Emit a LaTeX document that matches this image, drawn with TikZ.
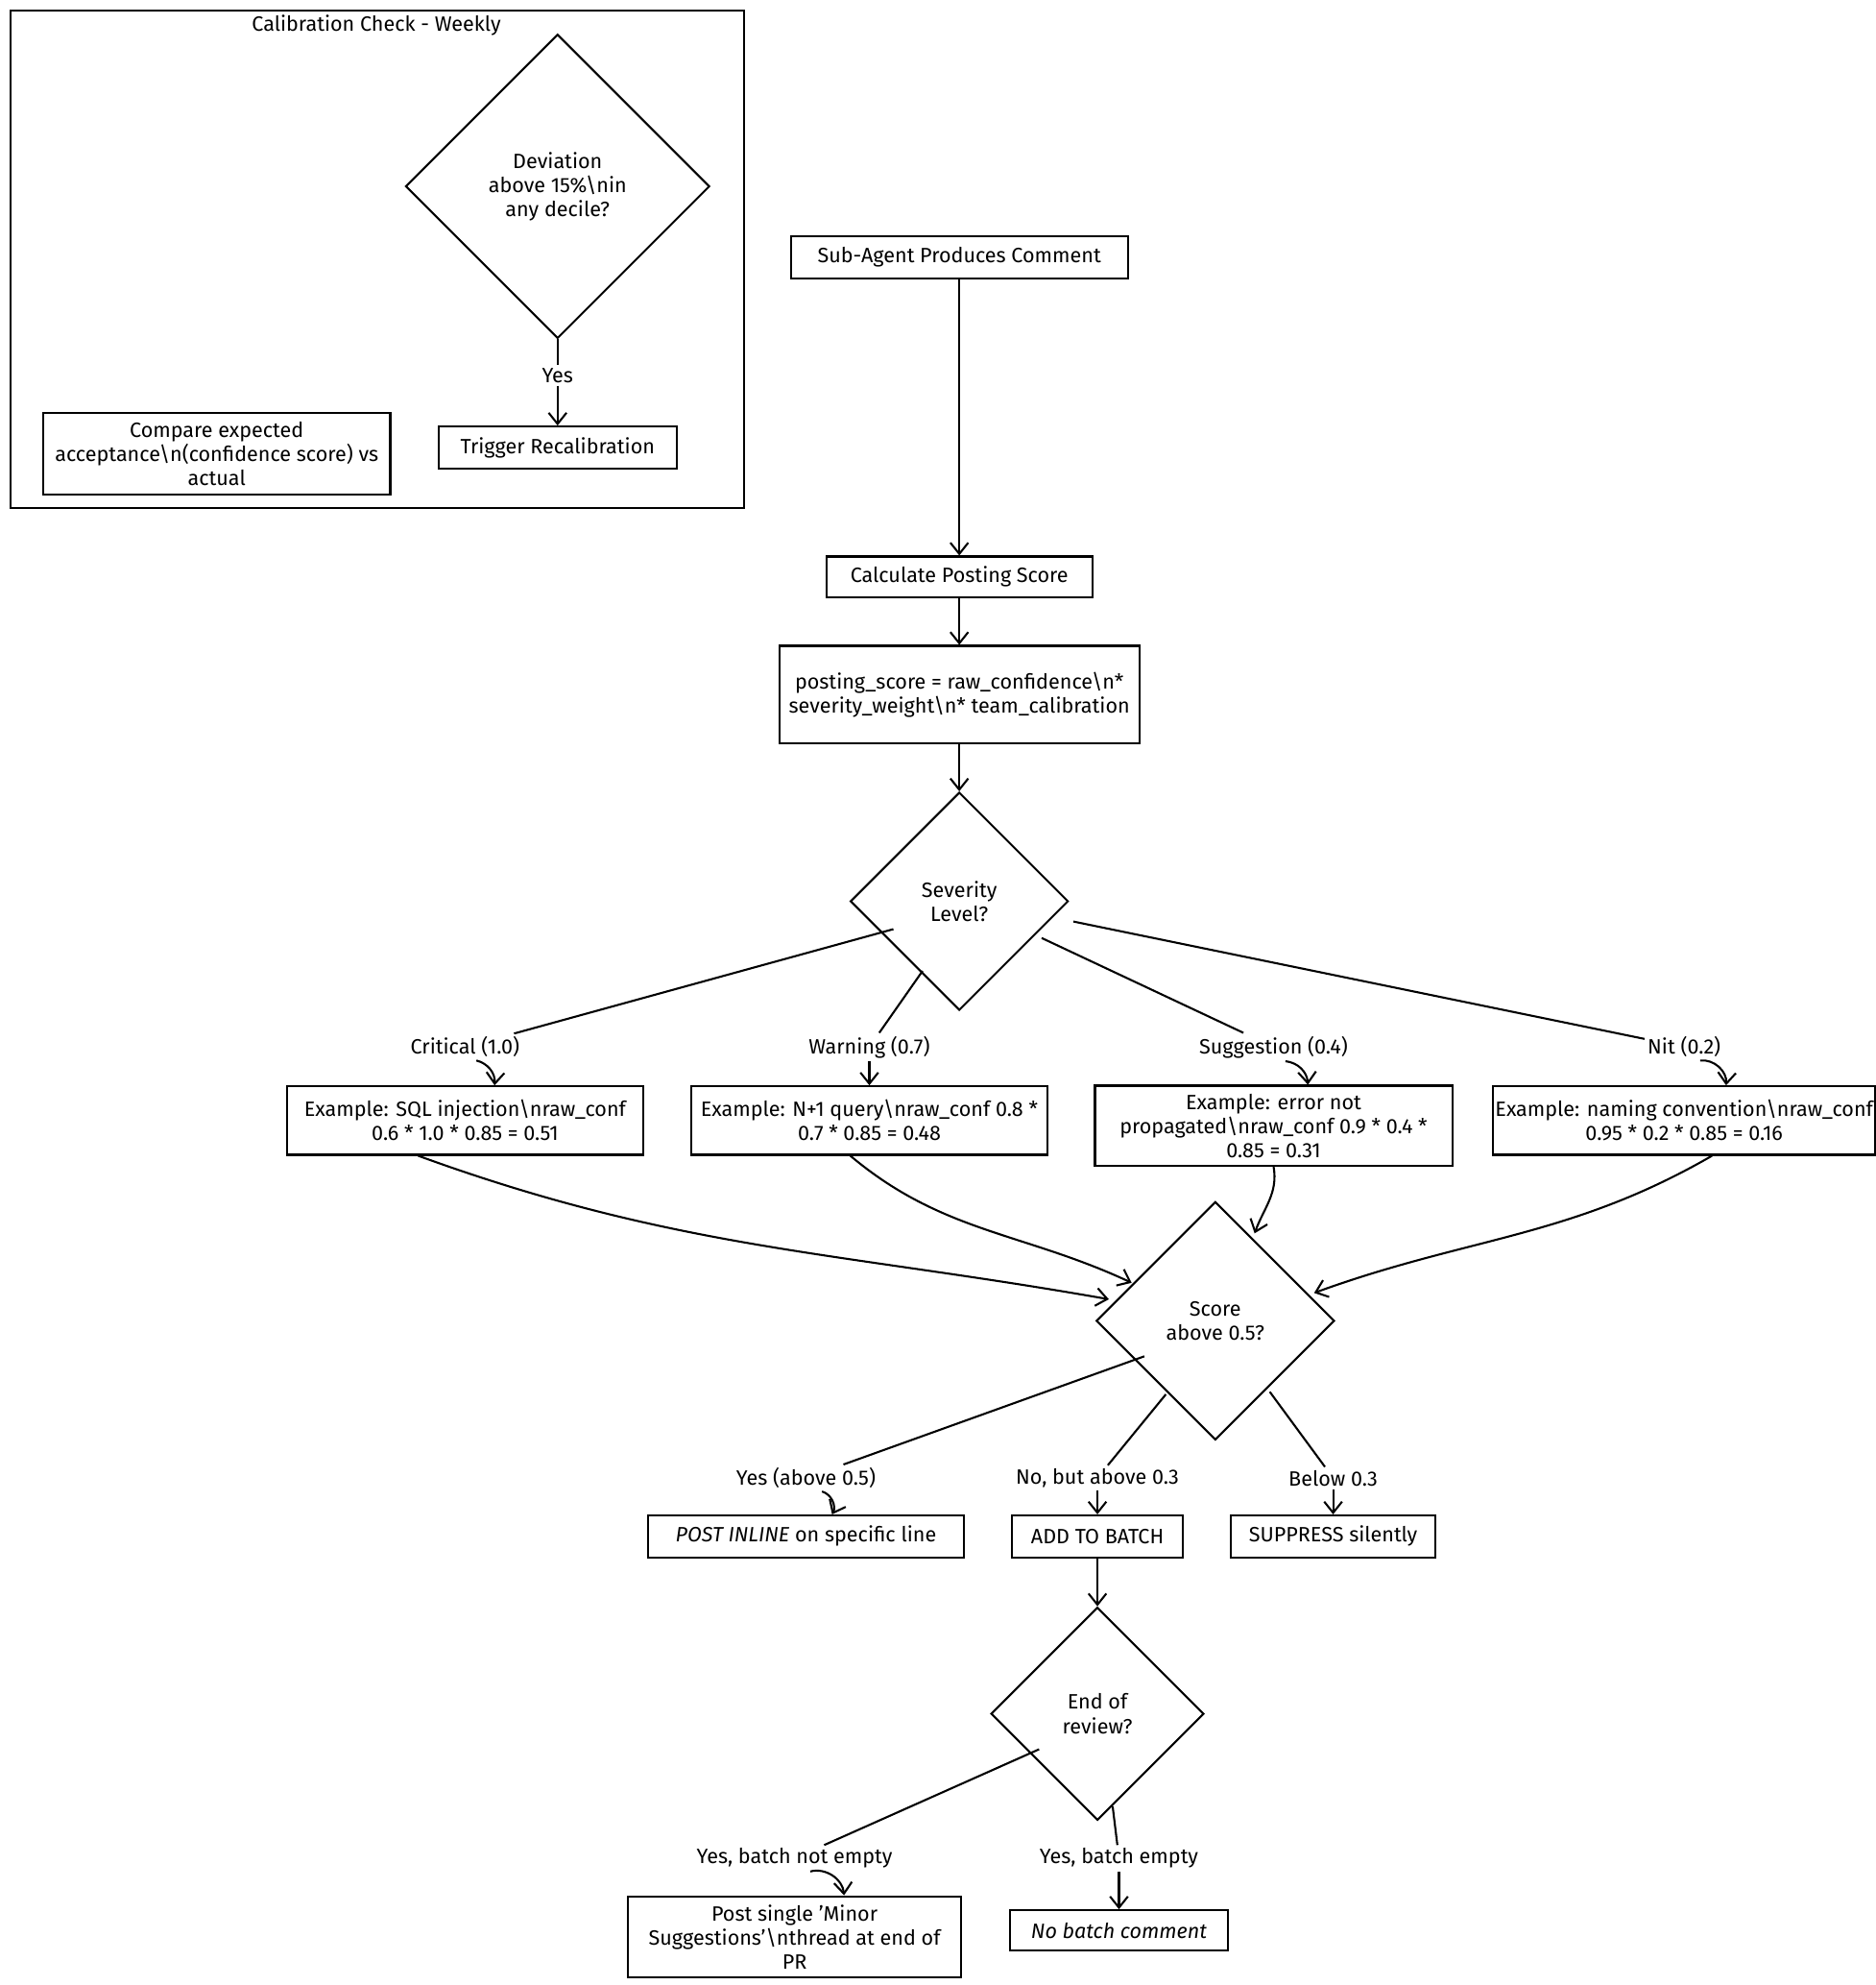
\documentclass[tikz,border=0pt]{standalone}
\usepackage{fontspec}
\setmainfont{Fira Sans}
\usetikzlibrary{shapes.geometric,arrows.meta}
\tikzset{
  box/.style={draw,rectangle,inner sep=3pt,align=center,line width=0.9pt},
  dia/.style={draw,diamond,aspect=1,inner sep=0pt,minimum size=#1,align=center,line width=0.9pt},
  lbl/.style={inner sep=1pt},
  every picture/.style={line width=0.9pt},
  arr/.style={-{Straight Barb[length=5pt,width=8pt]}},
}
\begin{document}
\begin{tikzpicture}[x=0.02cm,y=-0.02cm,font=\fontsize{9.3}{10.8}\selectfont]
  \useasboundingbox (0,0) rectangle (1480,1566);
  % calibration frame
  \draw (8,8) rectangle (587,401);
  \node[lbl] (title) at (297,20) {Calibration Check - Weekly};
  \node[dia=4.8cm] (dev) at (440,147) {Deviation\\above 15\%\textbackslash nin\\any decile?};
  \node[box,minimum width=3.76cm,minimum height=0.66cm] (recal) at (440,353) {Trigger Recalibration};
  \node[box,minimum width=5.48cm,minimum height=1.28cm,inner sep=1pt] (compare) at (171,358) {Compare expected\\acceptance\textbackslash n(confidence score) vs\\actual};
  \node[lbl] (yes0) at (440,296) {Yes};
  \draw (dev) -- (yes0);
  \draw[arr] (yes0) -- (recal);

  % main chain
  \node[box,minimum width=5.32cm,minimum height=0.66cm] (sub) at (757,203) {Sub-Agent Produces Comment};
  \node[box,minimum width=4.2cm,minimum height=0.64cm] (calc) at (757,455) {Calculate Posting Score};
  \node[box,minimum width=5.68cm,minimum height=1.54cm,inner sep=1pt] (formula) at (757,548) {posting\_score = raw\_confidence\textbackslash n*\\severity\_weight\textbackslash n* team\_calibration};
  \node[dia=3.44cm] (sev) at (757,711) {Severity\\Level?};
  \draw[arr] (sub) -- (calc);
  \draw[arr] (calc) -- (formula);
  \draw[arr] (formula) -- (sev);

  % severity branches
  \node[lbl] (crit) at (367,826) {Critical (1.0)};
  \node[lbl] (warn) at (686,826) {Warning (0.7)};
  \node[lbl] (sugg) at (1005,826) {Suggestion (0.4)};
  \node[lbl] (nit) at (1329,826) {Nit (0.2)};
  \node[box,minimum width=5.62cm,minimum height=1.08cm,inner sep=1pt] (ex1) at (367,884) {Example: SQL injection\textbackslash nraw\_conf\\0.6 * 1.0 * 0.85 = 0.51};
  \node[box,minimum width=5.62cm,minimum height=1.08cm,inner sep=1pt] (ex2) at (686,884) {Example: N+1 query\textbackslash nraw\_conf 0.8 *\\0.7 * 0.85 = 0.48};
  \node[box,minimum width=5.64cm,minimum height=1.26cm,inner sep=1pt] (ex3) at (1005,888) {Example: error not\\propagated\textbackslash nraw\_conf 0.9 * 0.4 *\\0.85 = 0.31};
  \node[box,minimum width=5.8cm,minimum height=1.08cm,inner sep=1pt] (ex4) at (1329,884) {Example: naming convention\textbackslash nraw\_conf\\0.95 * 0.2 * 0.85 = 0.16};
  \draw (705,733) -- (crit);
  \draw (728,766) -- (warn);
  \draw (822,740) -- (sugg);
  \draw (847,727) -- (nit);
  \draw[arr] (crit) to[bend left=40] (ex1);
  \draw[arr] (warn) -- (ex2);
  \draw[arr] (sugg) to[bend left=40] (ex3);
  \draw[arr] (nit) to[bend left=50] (ex4);

  % score decision
  \node[dia=3.76cm] (score) at (959,1042) {Score\\above 0.5?};
  \draw[arr] ([xshift=-0.74cm]ex1.south) to[out=-20,in=170] (875,1025);
  \draw[arr] ([xshift=-0.3cm]ex2.south) to[out=-40,in=155] (893,1012);
  \draw[arr] (ex3.south) to[out=-80,in=70] (990,973);
  \draw[arr] ([xshift=0.44cm]ex4.south) to[out=-150,in=20] (1037,1020);

  \node[lbl] (yes1) at (636,1166) {Yes (above 0.5)};
  \node[lbl] (nobut) at (866,1166) {No, but above 0.3};
  \node[lbl] (below) at (1052,1166) {Below 0.3};
  \node[box,minimum width=4.98cm,minimum height=0.66cm] (inline) at (636,1212) {\textit{POST INLINE} on specific line};
  \node[box,minimum width=2.7cm,minimum height=0.66cm] (batch) at (866,1212) {ADD TO BATCH};
  \node[box,minimum width=3.22cm,minimum height=0.66cm] (supp) at (1052,1212) {SUPPRESS silently};
  \draw (903,1070) -- (yes1);
  \draw (920,1100) -- (nobut);
  \draw (1002,1098) -- (below);
  \draw[arr] (yes1) to[bend left=50] (inline);
  \draw[arr] (nobut) -- (batch);
  \draw[arr] (below) -- (supp);

  % end of review
  \node[dia=3.36cm] (endrev) at (866,1352) {End of\\review?};
  \draw[arr] (batch) -- (endrev);
  \node[lbl] (yes2) at (627,1466) {Yes, batch not empty};
  \node[lbl] (yes3) at (883,1466) {Yes, batch empty};
  \node[box,minimum width=5.26cm,minimum height=1.28cm,inner sep=1pt] (single) at (627,1528) {Post single 'Minor\\Suggestions'\textbackslash nthread at end of\\PR};
  \node[box,minimum width=3.44cm,minimum height=0.64cm] (nobatch) at (883,1523) {\textit{No batch comment}};
  \draw (820,1380) -- (yes2);
  \draw (878,1425) -- (yes3);
  \draw[arr] (yes2) to[bend left=50] (single);
  \draw[arr] (yes3) -- (nobatch);
\end{tikzpicture}
\end{document}
